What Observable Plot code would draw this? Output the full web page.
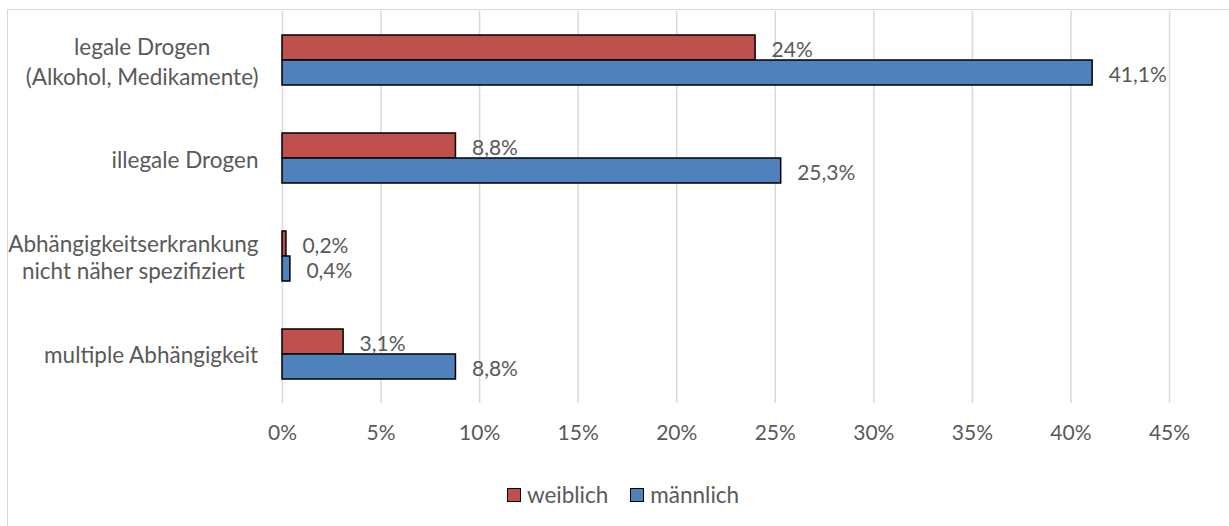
<!DOCTYPE html>
<html>
<head>
<meta charset="utf-8">
<script src="https://cdn.jsdelivr.net/npm/d3@7"></script>
<script src="https://cdn.jsdelivr.net/npm/@observablehq/plot@0.6"></script>
<style>
  body { margin: 0; background: #fff; font-family: Lato, sans-serif; }
  #wrap { position: relative; width: 1229px; height: 526px; overflow: hidden; }
  #frame { position: absolute; left: 7px; top: 9px; width: 1400px; height: 700px; border: 1px solid #d9d9d9; box-sizing: border-box; }
  #chart { position: absolute; left: 0; top: 0; }
  #legend { position: absolute; left: 0; top: 481px; width: 1229px; display: flex; justify-content: center; align-items: center; font-size: 22.5px; color: #595959; padding-left: 17px; box-sizing: border-box; }
  .item { display: flex; align-items: center; margin: 0 11px; }
  .sw { width: 12px; height: 12px; border: 1.5px solid #000; margin-right: 6px; }
</style>
</head>
<body>
<div id="wrap">
  <div id="frame"></div>
  <div id="chart"></div>
  <div id="legend"></div>
</div>
<script>
const categories = [
  "legale Drogen\n(Alkohol, Medikamente)",
  "illegale Drogen",
  "Abhängigkeitserkrankung\nnicht näher spezifiziert",
  "multiple Abhängigkeit"
];
const seriesNames = ["weiblich", "männlich"];
const weiblich = [24, 8.8, 0.2, 3.1];
const maennlich = [41.1, 25.3, 0.4, 8.8];
const xTicks = [0, 5, 10, 15, 20, 25, 30, 35, 40, 45];
const colors = ["#C0504D", "#4F81BD"];
const lineHeights = [1.35, 1.35, 1.2, 1.2];

const data = [];
categories.forEach((c, i) => {
  data.push({category: c, sex: seriesNames[0], value: weiblich[i]});
  data.push({category: c, sex: seriesNames[1], value: maennlich[i]});
});

const fmt = d => String(d).replace(".", ",") + "%";

// measure widest line of each category label (labels are right-aligned as a block, lines centred)
const catFont = "22.5px Lato";
const ctx = document.createElement("canvas").getContext("2d");
ctx.font = catFont;
const blockWidth = c => Math.max(...c.split("\n").map(l => ctx.measureText(l).width));

const labelMarks = categories.map((c, i) =>
  Plot.text([c], {
    fy: d => d,
    text: d => d,
    frameAnchor: "left",
    textAnchor: "middle",
    dx: -24 - blockWidth(c) / 2,
    lineHeight: lineHeights[i],
    fontSize: 22.5,
    fill: "#595959"
  })
);

const chart = Plot.plot({
  width: 1229,
  height: 470,
  marginLeft: 282,
  marginRight: 60,
  marginTop: 10,
  marginBottom: 67,
  style: {fontFamily: "Lato, sans-serif", fontSize: "21px", color: "#595959", background: "transparent", overflow: "visible"},
  x: {domain: [0, 45], axis: null},
  fy: {domain: categories, padding: 0, axis: null},
  y: {domain: seriesNames, paddingInner: 0, paddingOuter: 0.89, axis: null},
  color: {domain: seriesNames, range: colors},
  marks: [
    Plot.ruleX(xTicks, {stroke: "#d9d9d9", strokeWidth: 1.5}),
    Plot.barX(data, {fy: "category", y: "sex", x: "value", fill: "sex", stroke: "#000", strokeWidth: 1.5}),
    Plot.text(data, {fy: "category", y: "sex", x: "value", text: d => fmt(d.value), textAnchor: "start", dx: 16, dy: 2, fill: "#595959"}),
    Plot.axisX({anchor: "bottom", ticks: xTicks, tickFormat: d => d + "%", tickSize: 0, tickPadding: 22, label: null, fill: "#595959"}),
    ...labelMarks
  ]
});
document.getElementById("chart").appendChild(chart);

const legend = document.getElementById("legend");
seriesNames.forEach((s, i) => {
  const item = document.createElement("div");
  item.className = "item";
  const sw = document.createElement("div");
  sw.className = "sw";
  sw.style.background = colors[i];
  const t = document.createElement("span");
  t.textContent = s;
  item.appendChild(sw);
  item.appendChild(t);
  legend.appendChild(item);
});
</script>
</body>
</html>
